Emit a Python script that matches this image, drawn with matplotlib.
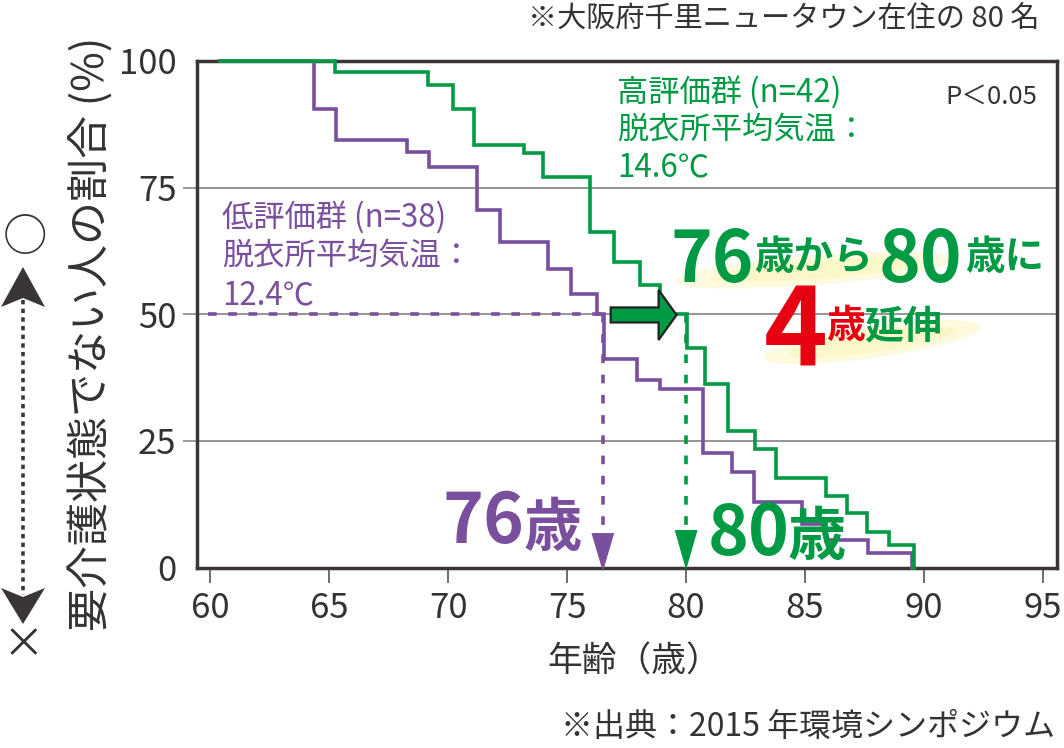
import matplotlib
matplotlib.use('Agg')
import matplotlib.pyplot as plt
from matplotlib.patches import Polygon, Ellipse
from matplotlib.transforms import IdentityTransform

W, H, DPI = 1064, 748, 100

# ---------------- data ----------------
age_high = [60.4, 65.25, 69.13, 70.22, 71.1, 73.17, 74.0, 75.97, 76.97, 78.07, 78.9,
            80.03, 80.8, 81.78, 82.9, 83.8, 85.87, 86.75, 87.62, 88.55, 89.58]
surv_high = [100, 97.8, 95.2, 90.5, 83.5, 81.8, 77.0, 66.3, 60.4, 55.7, 50.0,
             43.4, 36.3, 26.9, 23.3, 17.6, 14.1, 10.7, 7.1, 4.4, 0]

age_low = [60.4, 64.34, 65.3, 68.26, 69.2, 71.2, 72.16, 74.2, 75.17, 76.25, 76.53,
           77.93, 78.9, 80.73, 81.92, 82.87, 84.86, 85.9, 87.66, 89.48]
surv_low = [100, 90.5, 84.5, 82.0, 79.0, 70.5, 64.2, 59.0, 53.9, 50.0, 41.1,
            37.1, 35.2, 22.7, 18.9, 12.9, 8.5, 5.5, 2.8, 0]

median_low = 76.5
median_high = 80.0
half_level = 50

x_ticks = [60, 65, 70, 75, 80, 85, 90, 95]
y_ticks = [0, 25, 50, 75, 100]

label_high = ['高評価群 (n=42)', '脱衣所平均気温：', '14.6℃']
label_low = ['低評価群 (n=38)', '脱衣所平均気温：', '12.4℃']

# ---------------- style ----------------
GREEN = '#009a44'
PURPLE = '#7a4f9e'
RED = '#e60012'
DARK = '#3a3636'
TXT = '#333333'
YEL = '#fbf3a6'
JP = ['Noto Sans CJK JP', 'DejaVu Sans']
plt.rcParams['font.family'] = JP

fig = plt.figure(figsize=(W / DPI, H / DPI), dpi=DPI)
fig.patch.set_facecolor('white')
ax = fig.add_axes([197.3 / W, 1 - 567.5 / H, (1056.7 - 197.3) / W, (567.5 - 61) / H])
ax.set_xlim(59.45, 95.58)
ax.set_ylim(0, 100)

for s in ax.spines.values():
    s.set_color(DARK)
    s.set_linewidth(2.5)

ax.set_xticks(x_ticks)
ax.set_yticks(y_ticks)
ax.tick_params(axis='x', direction='out', length=11, width=1.2, color='#555555',
               labelsize=25, labelcolor=TXT, pad=6)
ax.tick_params(axis='y', direction='out', length=10, width=1.2, color='#888888',
               labelsize=25, labelcolor=TXT, pad=5)
for t in (ax.yaxis.get_major_ticks()[0], ax.yaxis.get_major_ticks()[-1]):
    t.tick1line.set_visible(False)
for yv in y_ticks[1:-1]:
    ax.axhline(yv, color='#8c8c8c', lw=1.3, zorder=1)


def D(px, py):
    """pixel (from top-left) -> display coords"""
    return (px, H - py)


# yellow highlight strokes
for (cx, cy, w, h, ang, a) in [(815, 270, 280, 30, 4.5, 0.35), (815, 270, 210, 18, 4.5, 0.4),
                               (872, 342, 220, 32, 8, 0.35), (872, 342, 170, 20, 8, 0.4)]:
    ax.add_patch(Ellipse(D(cx, cy), w, h, angle=ang, transform=IdentityTransform(),
                         facecolor=YEL, edgecolor='none', alpha=a, zorder=1.5))

# median guide lines
dash = (0, (2.4, 3.2))
ax.plot([59.9, median_low], [half_level, half_level], color=PURPLE, lw=2.6,
        linestyle=dash, zorder=2)
ax.plot([median_low, median_low], [half_level, 6.8], color=PURPLE, lw=2.6,
        linestyle=dash, zorder=2)
ax.plot([median_high, median_high], [half_level, 7.4], color=GREEN, lw=2.6,
        linestyle=dash, zorder=2)
for xm, col, yb, yt in [(median_low, PURPLE, 6.8, -0.8), (median_high, GREEN, 7.4, -0.5)]:
    ax.add_patch(Polygon([(xm - 0.48, yb), (xm + 0.48, yb), (xm, yt)], closed=True,
                         facecolor=col, edgecolor='none', clip_on=False, zorder=3))

# survival curves
ax.plot(age_low, surv_low, drawstyle='steps-post', color=PURPLE, lw=2.6,
        clip_on=False, zorder=4, solid_joinstyle='miter')
ax.plot(age_high, surv_high, drawstyle='steps-post', color=GREEN, lw=2.6,
        clip_on=False, zorder=5, solid_joinstyle='miter')

# fat arrow between medians
fig.canvas.draw()
tx, ty = ax.transData.transform((median_high - 0.4, half_level))
lx, _ = ax.transData.transform((median_low + 0.33, half_level))
ty -= 0.7
hb = tx - 18
arrow = [(lx, ty + 7.5), (hb, ty + 7.5), (hb, ty + 25), (tx, ty), (hb, ty - 25),
         (hb, ty - 7.5), (lx, ty - 7.5)]
ax.add_patch(Polygon(arrow, closed=True, transform=IdentityTransform(), facecolor=GREEN,
                     edgecolor='#222222', lw=1.6, zorder=6, joinstyle='miter'))


def ftxt(px, py, s, **kw):
    return fig.text(px / W, 1 - py / H, s, **kw)


# group labels
for i, s in enumerate(label_high):
    ftxt(617, 92 + 37.5 * i, s, color=GREEN, fontsize=22.5, va='center', ha='left')
for i, s in enumerate(label_low):
    ftxt(222, 217 + 39 * i, s, color=PURPLE, fontsize=22.5, va='center', ha='left')
ftxt(1037, 97, 'P＜0.05', color=TXT, fontsize=18.5, va='center', ha='right')


def run(pieces):
    for s, size, color, x, yb in pieces:
        ftxt(x, yb, s, fontsize=size, color=color, fontweight='bold', va='baseline',
             ha='left', zorder=7)


run([('76', 51, GREEN, 671, 281.7), ('歳から', 28.5, GREEN, 754, 269),
     ('80', 51, GREEN, 879, 281.7), ('歳に', 28.5, GREEN, 965, 269)])
run([('4', 78, RED, 764, 366.7), ('歳', 28, RED, 826, 338), ('延伸', 28, GREEN, 864, 338)])
run([('76', 50, PURPLE, 443, 543.3), ('歳', 42, PURPLE, 524, 546)])
run([('80', 50, GREEN, 708, 555), ('歳', 42, GREEN, 788, 555)])

# axis labels and notes
ftxt(92, 334, '要介護状態でない人の割合 (%)', rotation=90, fontsize=31, color=TXT,
     va='center', ha='center')
ftxt(634, 662, '年齢（歳）', fontsize=25, color=TXT, va='center', ha='center')
ftxt(1040, 20, '※大阪府千里ニュータウン在住の 80 名', fontsize=21, color=TXT,
     va='center', ha='right')
ftxt(1055, 727, '※出典：2015 年環境シンポジウム', fontsize=23, color=TXT,
     va='center', ha='right')

# ○ / × indicator on the far left
ftxt(25, 238, '○', fontsize=32, color=TXT, va='center', ha='center')
ftxt(23, 646, '×', fontsize=30, color=TXT, va='center', ha='center')
fig.lines.append(plt.Line2D([23 / W, 23 / W], [1 - 300 / H, 1 - 595 / H],
                            transform=fig.transFigure, color=DARK, lw=2.6,
                            linestyle=(0, (1.2, 1.2))))
for tip, base, notch in [(267, 307, 298), (624, 588, 597)]:
    fig.patches.append(Polygon([D(23, tip), D(45, base), D(23, notch), D(1, base)],
                               closed=True, transform=IdentityTransform(),
                               facecolor=DARK, edgecolor='none', figure=fig))

fig.savefig('out.png', dpi=DPI, facecolor='white')
